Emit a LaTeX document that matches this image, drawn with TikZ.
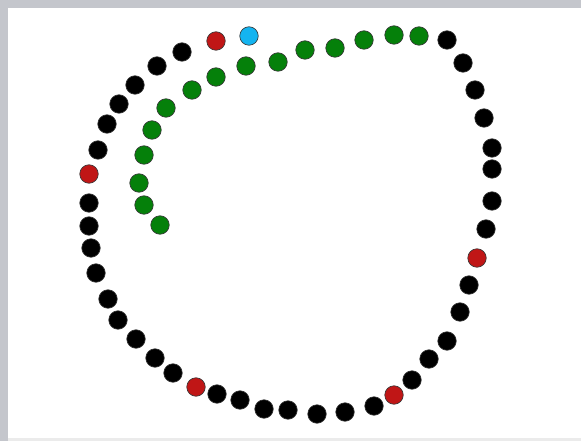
\documentclass[tikz,border=0pt]{standalone}
\begin{document}
\begin{tikzpicture}[x=1pt,y=-1pt,
  dot/.style={circle,draw=black!80,line width=0.6pt,minimum size=18.5pt,inner sep=0pt},
  bk/.style={dot,fill=black},
  rd/.style={dot,fill=myred},
  gr/.style={dot,fill=mygreen},
  bl/.style={dot,fill=myblue}]
\definecolor{myred}{RGB}{192,22,22}
\definecolor{mygreen}{RGB}{5,128,10}
\definecolor{myblue}{RGB}{20,180,240}
\definecolor{frame}{RGB}{196,198,204}
\useasboundingbox (0,0) rectangle (581,441);
\fill[frame] (0,0) rectangle (581,441);
\fill[white] (8,8) rectangle (581,438);
\fill[black!8] (8,438) rectangle (581,441);
% outer ring
\node[bk] (o1) at (182,52) {};
\node[rd] (o2) at (216,41) {};
\node[bl] (o3) at (249,36) {};
\node[bk] (o4) at (157,66) {};
\node[bk] (o5) at (135,85) {};
\node[bk] (o6) at (119,104) {};
\node[bk] (o7) at (107,124) {};
\node[bk] (o8) at (98,150) {};
\node[rd] (o9) at (89,174) {};
\node[bk] (o10) at (89,203) {};
\node[bk] (o11) at (89,226) {};
\node[bk] (o12) at (91,248) {};
\node[bk] (o13) at (96,273) {};
\node[bk] (o14) at (108,299) {};
\node[bk] (o15) at (118,320) {};
\node[bk] (o16) at (136,339) {};
\node[bk] (o17) at (155,358) {};
\node[bk] (o18) at (173,373) {};
\node[rd] (o19) at (196,387) {};
\node[bk] (o20) at (217,394) {};
\node[bk] (o21) at (240,400) {};
\node[bk] (o22) at (264,409) {};
\node[bk] (o23) at (288,410) {};
\node[bk] (o24) at (317,414) {};
\node[bk] (o25) at (345,412) {};
\node[bk] (o26) at (374,406) {};
\node[rd] (o27) at (394,395) {};
\node[bk] (o28) at (412,380) {};
\node[bk] (o29) at (429,359) {};
\node[bk] (o30) at (447,341) {};
\node[bk] (o31) at (460,312) {};
\node[bk] (o32) at (469,285) {};
\node[rd] (o33) at (477,258) {};
\node[bk] (o34) at (486,229) {};
\node[bk] (o35) at (492,201) {};
\node[bk] (o36) at (492,169) {};
\node[bk] (o37) at (492,148) {};
\node[bk] (o38) at (484,118) {};
\node[bk] (o39) at (475,90) {};
\node[bk] (o40) at (463,63) {};
\node[bk] (o41) at (447,40) {};
% green spiral
\node[gr] (g1) at (419,36) {};
\node[gr] (g2) at (394,35) {};
\node[gr] (g3) at (364,40) {};
\node[gr] (g4) at (335,48) {};
\node[gr] (g5) at (305,50) {};
\node[gr] (g6) at (278,62) {};
\node[gr] (g7) at (246,66) {};
\node[gr] (g8) at (216,77) {};
\node[gr] (g9) at (192,90) {};
\node[gr] (g10) at (166,108) {};
\node[gr] (g11) at (152,130) {};
\node[gr] (g12) at (144,155) {};
\node[gr] (g13) at (139,183) {};
\node[gr] (g14) at (144,205) {};
\node[gr] (g15) at (160,225) {};
\end{tikzpicture}
\end{document}
